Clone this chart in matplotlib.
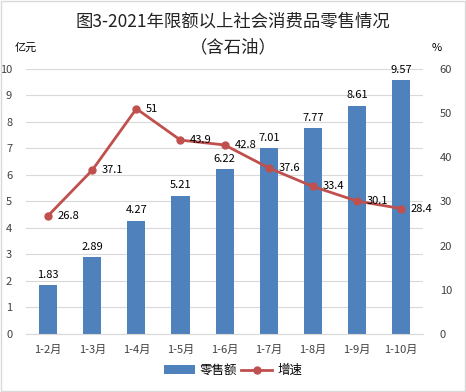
import numpy as np
import matplotlib
matplotlib.use("Agg")
from matplotlib import pyplot as plt
from matplotlib.patches import Rectangle

plt.rcParams['font.family'] = ['Noto Sans CJK SC', 'DejaVu Sans']

months = ['1-2月', '1-3月', '1-4月', '1-5月', '1-6月', '1-7月', '1-8月', '1-9月', '1-10月']
sales = [1.83, 2.89, 4.27, 5.21, 6.22, 7.01, 7.77, 8.61, 9.57]
growth = [26.8, 37.1, 51, 43.9, 42.8, 37.6, 33.4, 30.1, 28.4]

bar_color = '#4F81BD'
line_color = '#C0504D'

fig = plt.figure(figsize=(4.66, 3.92), dpi=100)
fig.patches.append(Rectangle((0.002, 0.002), 0.996, 0.996, transform=fig.transFigure,
                             fill=False, edgecolor='#D9D9D9', lw=1))

ax1 = fig.add_axes([0.056, 0.148, 0.852, 0.676])
ax2 = ax1.twinx()

x = np.arange(len(months))
bars = ax1.bar(x, sales, width=0.41, color=bar_color, label='零售额', zorder=2)
ax1.set_ylim(0, 10)
ax1.set_yticks(range(0, 11))
ax1.set_xlim(-0.5, len(months) - 0.5)
ax1.set_xticks(x)
ax1.set_xticklabels(months)
ax1.grid(axis='y', color='#D9D9D9', lw=0.8, zorder=0)
ax1.set_axisbelow(True)

# bar labels above bars
for xi, v in zip(x, sales):
    ax1.annotate(f'{v}', (xi, v), xytext=(0, 4), textcoords='offset points',
                 ha='center', va='bottom', fontsize=8)

line, = ax2.plot(x, growth, color=line_color, lw=2, marker='o', ms=5, label='增速', zorder=3)
ax2.set_ylim(0, 60)
ax2.set_yticks(range(0, 61, 10))

# line labels to the right of points
for xi, v in zip(x, growth):
    ax2.annotate(f'{v:g}', (xi, v), xytext=(7, 0), textcoords='offset points',
                 ha='left', va='center', fontsize=8)

for ax in (ax1, ax2):
    for s in ax.spines.values():
        s.set_visible(False)
    ax.tick_params(length=0, labelsize=8, colors='#404040')
ax1.spines['bottom'].set_visible(True)
ax1.spines['bottom'].set_color('#D9D9D9')
ax1.tick_params(axis='x', pad=8)
ax1.tick_params(axis='y', pad=10)
ax2.tick_params(axis='y', pad=12)

fig.text(0.5, 0.945, '图3-2021年限额以上社会消费品零售情况', ha='center', va='center',
         fontsize=12.5, color='#222222')
fig.text(0.5, 0.88, '（含石油）', ha='center', va='center', fontsize=12.5, color='#222222')
fig.text(0.055, 0.878, '亿元', ha='center', va='center', fontsize=8)
fig.text(0.938, 0.878, '%', ha='center', va='center', fontsize=8)

fig.legend(handles=[bars, line], loc='center', bbox_to_anchor=(0.5, 0.055), ncol=2,
           frameon=False, fontsize=9, handlelength=2.5, columnspacing=0.3, handletextpad=0.4)

fig.savefig('out.png', dpi=100)
